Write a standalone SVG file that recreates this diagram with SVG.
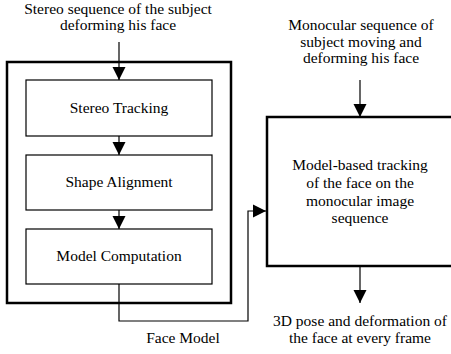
<svg xmlns="http://www.w3.org/2000/svg" width="451" height="354" viewBox="0 0 451 354">
<style>
text{font-family:"Liberation Serif","Times New Roman",serif;font-size:15.5px;fill:#000;text-anchor:middle}
.thick{fill:#fff;stroke:#000;stroke-width:2.5}
.thin{fill:#fff;stroke:#000;stroke-width:1.2}
.conn{fill:none;stroke:#000;stroke-width:1.2}
</style>
<defs>
<marker id="ah" markerUnits="userSpaceOnUse" markerWidth="14" markerHeight="14" viewBox="0 0 14 14" refX="13" refY="7" orient="auto">
<polygon points="0,0.5 13,7 0,13.5" fill="#000"/>
</marker>
</defs>
<g id="outer">
<rect class="thick" x="7" y="62" width="224" height="241"/>
</g>
<g id="right-box">
<rect class="thick" x="267" y="117" width="190" height="149"/>
<text x="360" y="170">Model-based tracking<tspan x="360" y="188">of the face on the</tspan><tspan x="360" y="206">monocular image</tspan><tspan x="360" y="223">sequence</tspan></text>
</g>
<g id="stereo-tracking">
<rect class="thin" x="26" y="80" width="186" height="56"/>
<text x="119" y="113">Stereo Tracking</text>
</g>
<g id="shape-alignment">
<rect class="thin" x="26" y="155" width="186" height="55"/>
<text x="119" y="187">Shape Alignment</text>
</g>
<g id="model-computation">
<rect class="thin" x="26" y="229" width="186" height="55"/>
<text x="119" y="261">Model Computation</text>
</g>
<g id="labels">
<text x="118" y="14">Stereo sequence of the subject<tspan x="118" y="30">deforming his face</tspan></text>
<text x="361" y="30">Monocular sequence of<tspan x="361" y="47">subject moving and</tspan><tspan x="361" y="63">deforming his face</tspan></text>
<text x="360" y="326">3D pose and deformation of<tspan x="360" y="343">the face at every frame</tspan></text>
<text x="183" y="343">Face Model</text>
</g>
<g id="connectors">
<line class="conn" x1="119" y1="42" x2="119" y2="80" marker-end="url(#ah)"/>
<line class="conn" x1="119" y1="136" x2="119" y2="155" marker-end="url(#ah)"/>
<line class="conn" x1="119" y1="210" x2="119" y2="229" marker-end="url(#ah)"/>
<polyline class="conn" points="119,284 119,321 248,321 248,211 266,211" marker-end="url(#ah)"/>
<line class="conn" x1="360" y1="80" x2="360" y2="117" marker-end="url(#ah)"/>
<line class="conn" x1="360" y1="267" x2="360" y2="303" marker-end="url(#ah)"/>
</g>
</svg>
